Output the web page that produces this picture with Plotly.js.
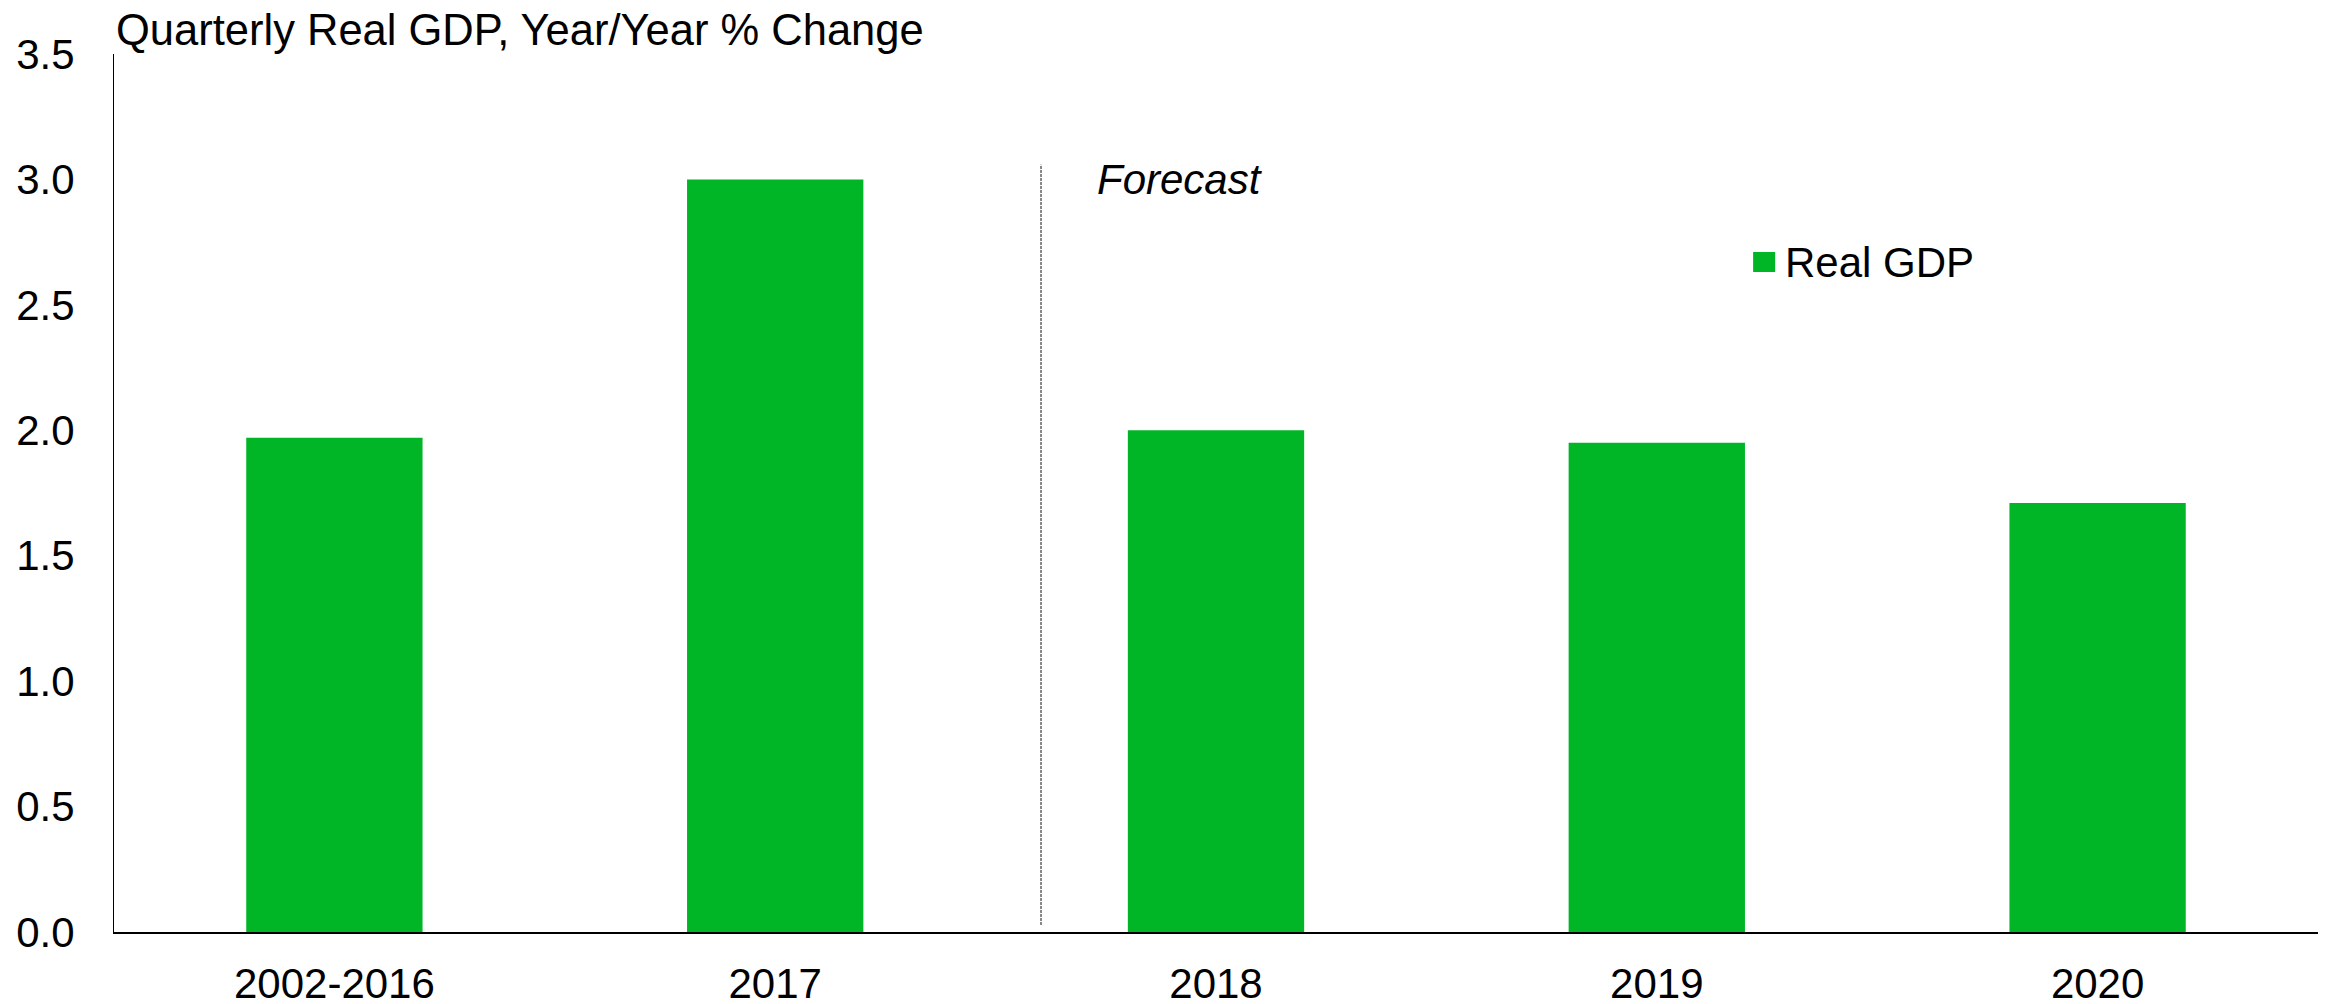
<!DOCTYPE html>
<html>
<head>
<meta charset="utf-8">
<script src="https://cdn.plot.ly/plotly-3.0.1.min.js"></script>
<style>
  html, body { margin: 0; padding: 0; background: #fff; }
  #vis { width: 2331px; height: 1004px; }
</style>
</head>
<body>
<div id="vis"></div>
<script>
const categories = ['2002-2016', '2017', '2018', '2019', '2020']
const realGdp = [1.97, 3.0, 2.0, 1.95, 1.71]
const yTicks = [0, 0.5, 1, 1.5, 2, 2.5, 3, 3.5]
const yTickText = ['0.0', '0.5', '1.0', '1.5', '2.0', '2.5', '3.0', '3.5']

const font = { family: 'Liberation Sans, Arial, sans-serif', size: 42, color: '#000' }
const green = '#00b626'

const traces = [
  {
    type: 'bar',
    name: 'Real GDP',
    x: categories,
    y: realGdp,
    marker: { color: green, line: { width: 0 } },
    hoverinfo: 'none',
    showlegend: false
  }
]

const layout = {
  width: 2331,
  height: 1004,
  margin: { l: 114, r: 13, t: 54, b: 72 },
  paper_bgcolor: '#fff',
  plot_bgcolor: '#fff',
  font: font,
  bargap: 0.6,
  showlegend: false,
  xaxis: {
    type: 'category',
    showgrid: false,
    zeroline: false,
    showline: true,
    linecolor: '#000',
    linewidth: 2,
    ticks: '',
    tickfont: font,
    ticklabelstandoff: 14
  },
  yaxis: {
    range: [0, 3.5],
    tickvals: yTicks,
    ticktext: yTickText,
    showgrid: false,
    zeroline: false,
    showline: true,
    linecolor: '#000',
    linewidth: 1,
    ticks: '',
    tickfont: font,
    ticklabelstandoff: 30
  },
  shapes: [
    // forecast divider
    {
      type: 'line',
      xref: 'x',
      yref: 'paper',
      x0: 1.603,
      x1: 1.603,
      y0: 0.008,
      y1: 0.874,
      line: { color: '#111', width: 1, dash: '3px,1px' }
    },
    // legend swatch
    {
      type: 'rect',
      xref: 'paper',
      yref: 'paper',
      x0: 0.7437,
      x1: 0.7537,
      y0: 0.7517,
      y1: 0.7745,
      fillcolor: green,
      line: { width: 0 }
    }
  ],
  annotations: [
    {
      text: 'Quarterly Real GDP, Year/Year % Change',
      xref: 'paper',
      yref: 'paper',
      x: 0,
      y: 1,
      xanchor: 'left',
      yanchor: 'bottom',
      xshift: 0,
      yshift: -2,
      showarrow: false,
      font: { ...font, size: 43.5 }
    },
    {
      text: '<i>Forecast</i>',
      xref: 'x',
      yref: 'paper',
      x: 1.725,
      y: 0.857,
      xanchor: 'left',
      yanchor: 'middle',
      showarrow: false,
      font: font
    },
    {
      text: 'Real GDP',
      xref: 'paper',
      yref: 'paper',
      x: 0.759,
      y: 0.763,
      xanchor: 'left',
      yanchor: 'middle',
      xshift: -4,
      showarrow: false,
      font: font
    }
  ]
}

const config = { staticPlot: true }

Plotly.newPlot('vis', traces, layout, config)
</script>
</body>
</html>
